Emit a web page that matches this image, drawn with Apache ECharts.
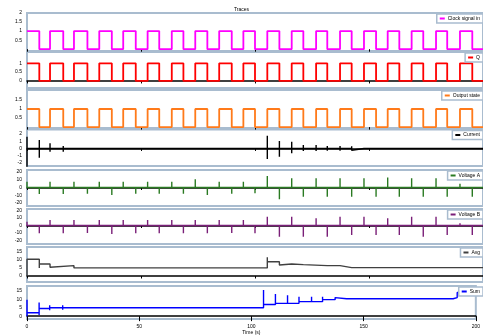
<!DOCTYPE html>
<html>
<head>
<meta charset="utf-8">
<script src="https://cdn.jsdelivr.net/npm/echarts@6/dist/echarts.min.js"></script>
<style>
  html, body { margin: 0; padding: 0; background: #fff; }
  #chart { width: 483px; height: 336px; }
</style>
</head>
<body>
<div id="chart"></div>
<script>
// x axis
const timeTicks = [0, 50, 100, 150, 200];

// edge times of the square waves (shared by the three top traces)
const edgeT = [0, 5.4, 10.1, 15.9, 20.6, 26.5, 31.7, 37.2, 42.2, 47.7, 52.9, 58.0, 63.5, 68.6, 73.8, 79.1, 84.3, 89.8, 94.9, 100.0,
  105.4, 110.7, 116.1, 121.2, 126.8, 131.7, 137.3, 142.4, 147.8, 153.1, 158.2, 163.3, 168.7, 173.8, 179.4, 184.3, 189.9, 195.3, 200];
const magentaLevel = [1,0,1,0,1,0,1,0,1,0, 1,0,1,0,1,0,1,0,1,0, 1,0,1,0,1,0,1,0,1,0, 1,0,1,0,1,0,1,0,0];
const redLevel     = [1,0,1,0,1,0,1,0,1,0, 1,0,1,0,1,0,1,0,1,0, 1,0,1,0,1,0,1,0,1,0, 1,0,1,0,1,0,1,0,0];
const orangeLevel  = [1,0,1,0,1,0,1,0,1,0, 1,0,1,0,1,0,1,0,1,0, 1,0,1,0,1,0,1,0,1,0, 1,0,1,0,1,0,1,0,0];

// black spikes
const blackT  = [0, 5.4, 10.1, 15.9, 105.4, 110.7, 116.1, 121.2, 126.8, 131.7, 137.3, 142.4, 147.8, 173.8];
const blackHi = [1.6, 1.16, 0.71, 0.34, 1.75, 1.03, 0.93, 0.48, 0.48, 0.34, 0.34, 0.3, 0.2, 0.2];
const blackLo = [-3, -1.26, -0.44, -0.44, -1.44, -1.12, -0.66, -0.34, -0.34, -0.3, -0.3, -0.25, -0.15, -0.1];

// green and purple spikes, one per edge (edgeT without the end)
const greenV = [7.5, -8.4, 7.5, -8.4, 7.5, -8.0, 7.5, -9.7, 7.5, -8.0,
  7.5, -8.0, 7.5, -8.0, 10.6, -9.7, 7.5, -8.0, 7.5, -7.5,
  14.9, -15.3, 11.9, -11.9, 11.9, -11.9, 11.9, -11.9, 11.9, -11.9,
  13.0, -11.9, 11.9, -11.9, 11.9, -11.9, 5.0, -11.9];
const purpleV = [5.0, -10.5, 7.4, -10.5, 7.4, -10.0, 7.4, -11.5, 7.4, -10.5,
  7.4, -10.5, 7.4, -10.5, 7.4, -10.5, 7.4, -10.0, 7.4, -10.5,
  11.9, -15.1, 11.9, -15.1, 9.7, -15.1, 11.9, -12.8, 11.9, -12.8,
  9.7, -12.8, 11.9, -15.1, 11.9, -12.8, 3.0, -12.8];

// grey step trace
const greyT     = [0, 5.4, 10.1, 20.6, 105.4, 110.7, 116.1, 121.2, 131.7, 137.3, 142.4, 200];
const greyLevel = [10.3, 7.4, 6.4, 5.0, 8.8, 7.4, 7.0, 6.4, 6.4, 5.2, 5.2, 5.2];
const greyPeak  = [null, 11.1, 7.8, null, 11.5, 9.6, 8.0, 7.0, 7.0, null, 6.0, null];
const greyDip   = [null, 4.9, 5.4, null, null, 6.8, 6.4, 5.8, 5.8, null, 4.6, null];

// blue step trace
const blueT     = [0, 5.4, 10.1, 15.9, 105.4, 110.7, 116.1, 121.2, 126.8, 131.7, 137.3, 142.4, 147.8, 153.1, 158.2, 168.7, 173.8, 179.4, 189.9, 191.7, 200];
const blueLevel = [2.0, 4.5, 5.0, 5.0, 6.9, 7.6, 7.6, 8.6, 8.6, 9.8, 10.3, 10.3, 10.3, 10.3, 10.3, 10.3, 10.3, 10.3, 11.0, 14.0, 14.0];
const bluePeak  = [9.8, 8.1, 6.4, 6.4, 15.5, 13.2, 12.4, 11.5, 11.5, 11.5, 11.0, 11.0, 11.0, 11.0, 11.0, 11.0, 11.0, 11.0, null, null, null];
const blueDip   = [null, 0.7, 3.5, 3.8, null, null, null, null, null, null, null, null, null, null, null, null, null, null, null, null, null];

// y tick labels per panel
const yTicks = [
  [0.5, 1, 1.5, 2],
  [0, 0.5, 1],
  [0.5, 1, 1.5],
  [-2, -1, 0, 1, 2],
  [-20, -10, 0, 10, 20],
  [-20, -10, 0, 10, 20],
  [0, 5, 10, 15],
  [0, 5, 10, 15]
];

const names = ['Clock signal in', 'Q', 'Output state', 'Current', 'Voltage A', 'Voltage B', 'Avg', 'Sum'];
const colors = ['#ff00ff', '#ff0000', '#ff7a1a', '#000000', '#2a7a22', '#7a1f78', '#404040', '#0000ff'];

// layout of the stacked panels (px) and their value ranges
const panels = [
  { top: 13, height: 38, min: -0.1, max: 2.0, zeroLine: false },
  { top: 52, height: 36, min: -0.4, max: 1.64, zeroLine: true },
  { top: 90, height: 38, min: -0.05, max: 2.05, zeroLine: false },
  { top: 129.5, height: 36.5, min: -2.4, max: 2.6, zeroLine: true },
  { top: 170, height: 36, min: -24, max: 22.7, zeroLine: true },
  { top: 209, height: 35, min: -25, max: 22.3, zeroLine: true },
  { top: 247, height: 35, min: -3.7, max: 17.9, zeroLine: true },
  { top: 286, height: 38, min: -1.7, max: 17.9, zeroLine: true }
];

const tEnd = timeTicks[timeTicks.length - 1];

function stepPath(T, level, peak, dip, start) {
  const pts = [];
  let prev = start;
  for (let i = 0; i < T.length; i++) {
    pts.push([T[i], prev]);
    if (peak && peak[i] != null) pts.push([T[i], peak[i]]);
    if (dip && dip[i] != null) pts.push([T[i], dip[i]]);
    pts.push([T[i], level[i]]);
    prev = level[i];
  }
  return pts;
}

function spikePath(T, hi, lo) {
  const pts = [[0, 0]];
  for (let i = 0; i < T.length; i++) {
    pts.push([T[i], 0], [T[i], hi[i]]);
    if (lo) pts.push([T[i], lo[i]]);
    pts.push([T[i], 0]);
  }
  pts.push([tEnd, 0]);
  return pts;
}

const spikeT = edgeT.slice(0, greenV.length);

const traces = [
  stepPath(edgeT, magentaLevel, null, null, 1),
  stepPath(edgeT, redLevel, null, null, 1),
  stepPath(edgeT, orangeLevel, null, null, 1),
  spikePath(blackT, blackHi, blackLo),
  spikePath(spikeT, greenV),
  spikePath(spikeT, purpleV),
  stepPath(greyT, greyLevel, greyPeak, greyDip, 0),
  stepPath(blueT, blueLevel, bluePeak, blueDip, 0)
];

const font = 'Liberation Sans, Arial, sans-serif';
const frame = '#a9bccf';

const chart = echarts.init(document.getElementById('chart'));

const option = {
  animation: false,
  title: {
    text: 'Traces',
    left: 'center',
    top: 2,
    textStyle: { fontSize: 5, fontWeight: 'normal', color: '#000', fontFamily: font }
  },
  grid: panels.map(p => ({
    left: 27, right: 0, top: p.top, height: p.height,
    show: true, borderColor: frame, borderWidth: 2
  })),
  legend: panels.map((p, i) => ({
    data: [names[i]],
    top: p.top + 1,
    right: 0,
    icon: 'rect',
    itemWidth: 5,
    itemHeight: 2,
    padding: [2, 3],
    backgroundColor: '#fff',
    borderColor: frame,
    borderWidth: 1.5,
    borderRadius: 0,
    textStyle: { fontSize: 5, color: '#000', fontFamily: font, padding: [0, 0, 0, -2] }
  })),
  xAxis: panels.map((p, i) => ({
    type: 'value',
    gridIndex: i,
    min: timeTicks[0],
    max: tEnd,
    interval: 50,
    axisLine: { show: p.zeroLine, onZero: true, lineStyle: { color: '#000', width: 1.5 } },
    axisTick: { show: true, length: i === 7 ? 5 : 2.5, lineStyle: { color: '#000' } },
    axisLabel: { show: i === 7, fontSize: 5, margin: 5, color: '#000', fontFamily: font },
    splitLine: { show: false },
    name: i === 7 ? 'Time (s)' : '',
    nameLocation: 'middle',
    nameGap: 11,
    nameTextStyle: { fontSize: 5, color: '#000', fontFamily: font }
  })),
  yAxis: panels.map((p, i) => ({
    type: 'value',
    gridIndex: i,
    min: p.min,
    max: p.max,
    axisLine: { show: false },
    axisTick: { show: false },
    splitLine: { show: false },
    axisLabel: { customValues: yTicks[i], fontSize: 5, margin: 5, color: '#000', fontFamily: font }
  })),
  series: traces.map((d, i) => ({
    name: names[i],
    type: 'line',
    xAxisIndex: i,
    yAxisIndex: i,
    data: d,
    showSymbol: false,
    color: colors[i],
    lineStyle: { width: i < 3 ? 1.8 : 1.4, color: colors[i] }
  }))
};

chart.setOption(option);
</script>
</body>
</html>
